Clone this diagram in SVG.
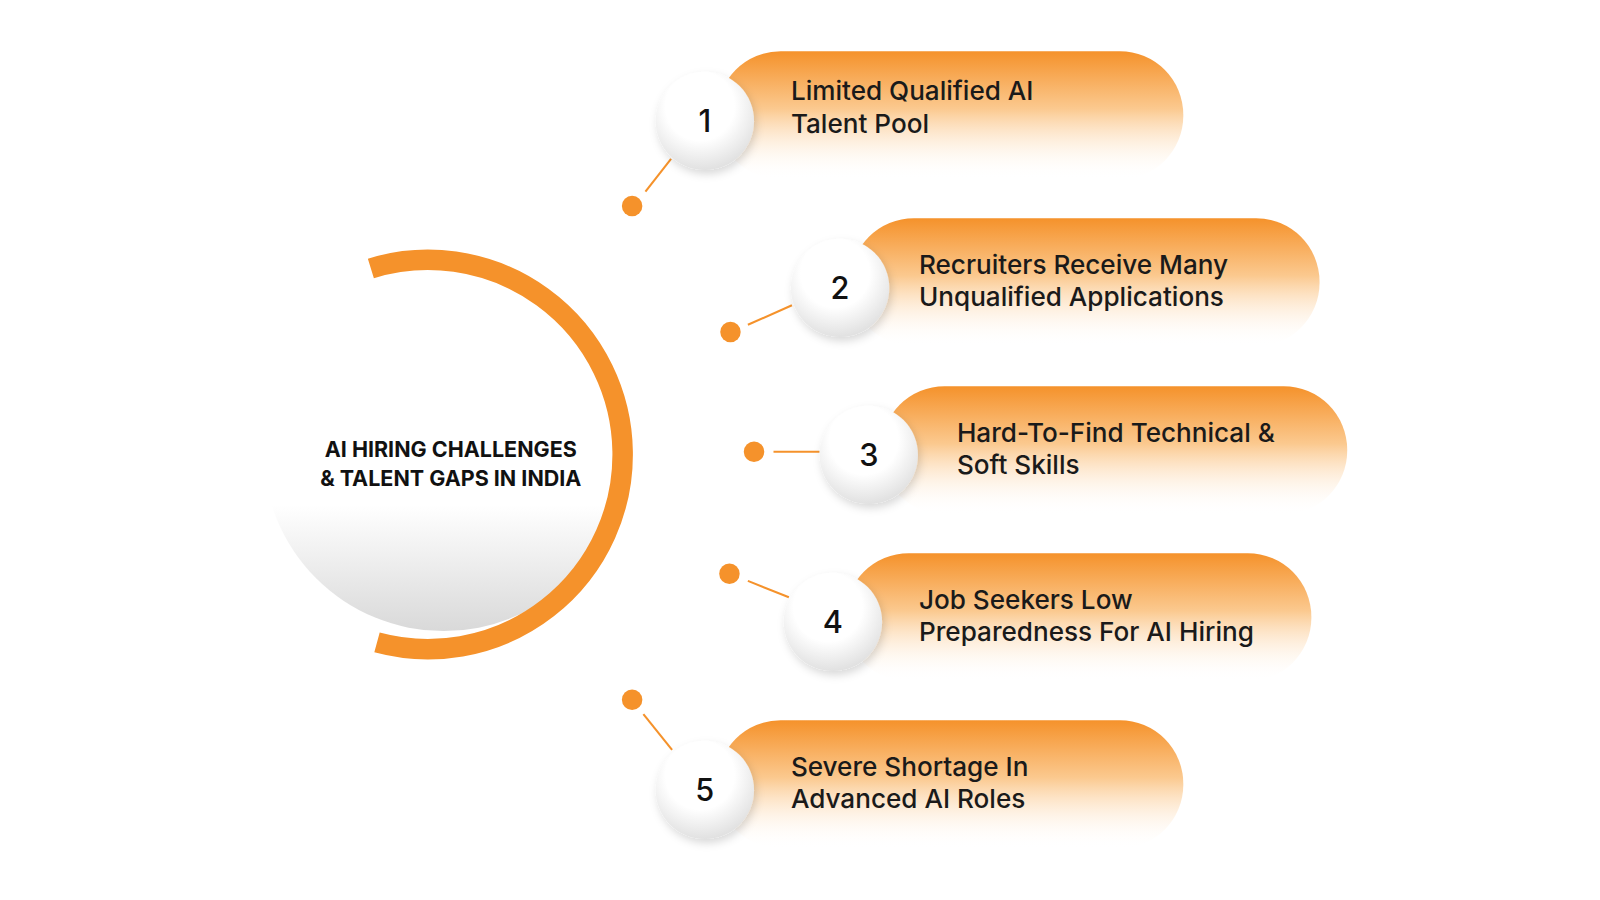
<svg xmlns="http://www.w3.org/2000/svg" width="1600" height="900" viewBox="0 0 1600 900">
<defs>
<linearGradient id="pill" x1="0" y1="0" x2="0" y2="1"><stop offset="0" stop-color="#f5922b"/><stop offset="0.45" stop-color="#fbc98f"/><stop offset="1" stop-color="#ffffff" stop-opacity="0"/></linearGradient>
<radialGradient id="num" cx="0.45" cy="0.35" r="0.7"><stop offset="0.5" stop-color="#ffffff"/><stop offset="1" stop-color="#dcdcdc"/></radialGradient>
<linearGradient id="hub" x1="0" y1="0" x2="0" y2="1"><stop offset="0.65" stop-color="#ffffff"/><stop offset="1" stop-color="#d9d9d9"/></linearGradient>
<filter id="sh" x="-30%" y="-30%" width="160%" height="160%"><feDropShadow dx="2" dy="4" stdDeviation="4" flood-color="#000" flood-opacity="0.15"/></filter>
</defs>
<style>
.t{font-family:Inter,"Liberation Sans",sans-serif;font-size:25.5px;font-weight:500;fill:#1a1a1a}
.n{font-family:Inter,"Liberation Sans",sans-serif;font-size:30px;font-weight:500;fill:#111;text-anchor:middle}
.c{stroke:#f5922b;stroke-width:2;fill:none}
.d{fill:#f5922b}
</style>
<rect width="1600" height="900" fill="#fff"/>
<g transform="scale(1.0245)">
<g id="hub-node">
<circle cx="433" cy="440" r="176" fill="url(#hub)"/>
<path d="M362,262 A190,190 0 1 1 368,627" fill="none" stroke="#f5922b" stroke-width="20"/>
<text x="440" y="446" font-family="Inter,'Liberation Sans',sans-serif" font-weight="700" font-size="21" text-anchor="middle" fill="#111">AI HIRING CHALLENGES</text>
<text x="440" y="474" font-family="Inter,'Liberation Sans',sans-serif" font-weight="700" font-size="21" text-anchor="middle" fill="#111">&amp; TALENT GAPS IN INDIA</text>
</g>
<g id="connectors">
<line class="c" x1="630" y1="187" x2="655" y2="155"/><circle class="d" cx="617" cy="201" r="10"/>
<line class="c" x1="730" y1="317" x2="773" y2="298"/><circle class="d" cx="713" cy="324" r="10"/>
<line class="c" x1="755" y1="441" x2="800" y2="441"/><circle class="d" cx="736" cy="441" r="10"/>
<line class="c" x1="730" y1="567" x2="770" y2="583"/><circle class="d" cx="712" cy="560" r="10"/>
<line class="c" x1="628" y1="697" x2="656" y2="732"/><circle class="d" cx="617" cy="683" r="10"/>
</g>
<g id="item1"><rect x="700" y="50" width="455" height="125" rx="62" fill="url(#pill)"/><circle cx="688" cy="118" r="48" fill="url(#num)" filter="url(#sh)"/><text class="n" x="688" y="129">1</text><text class="t" x="772" y="98">Limited Qualified AI</text><text class="t" x="772" y="130">Talent Pool</text></g>
<g id="item2"><rect x="830" y="213" width="458" height="125" rx="62" fill="url(#pill)"/><circle cx="820" cy="281" r="48" fill="url(#num)" filter="url(#sh)"/><text class="n" x="820" y="292">2</text><text class="t" x="897" y="267">Recruiters Receive Many</text><text class="t" x="897" y="299">Unqualified Applications</text></g>
<g id="item3"><rect x="860" y="377" width="455" height="125" rx="62" fill="url(#pill)"/><circle cx="848" cy="444" r="48" fill="url(#num)" filter="url(#sh)"/><text class="n" x="848" y="455">3</text><text class="t" x="934" y="431">Hard-To-Find Technical &amp;</text><text class="t" x="934" y="463">Soft Skills</text></g>
<g id="item4"><rect x="825" y="540" width="455" height="125" rx="62" fill="url(#pill)"/><circle cx="813" cy="607" r="48" fill="url(#num)" filter="url(#sh)"/><text class="n" x="813" y="618">4</text><text class="t" x="897" y="594">Job Seekers Low</text><text class="t" x="897" y="626">Preparedness For AI Hiring</text></g>
<g id="item5"><rect x="700" y="703" width="455" height="125" rx="62" fill="url(#pill)"/><circle cx="688" cy="771" r="48" fill="url(#num)" filter="url(#sh)"/><text class="n" x="688" y="782">5</text><text class="t" x="772" y="757">Severe Shortage In</text><text class="t" x="772" y="789">Advanced AI Roles</text></g>
</g>
</svg>
